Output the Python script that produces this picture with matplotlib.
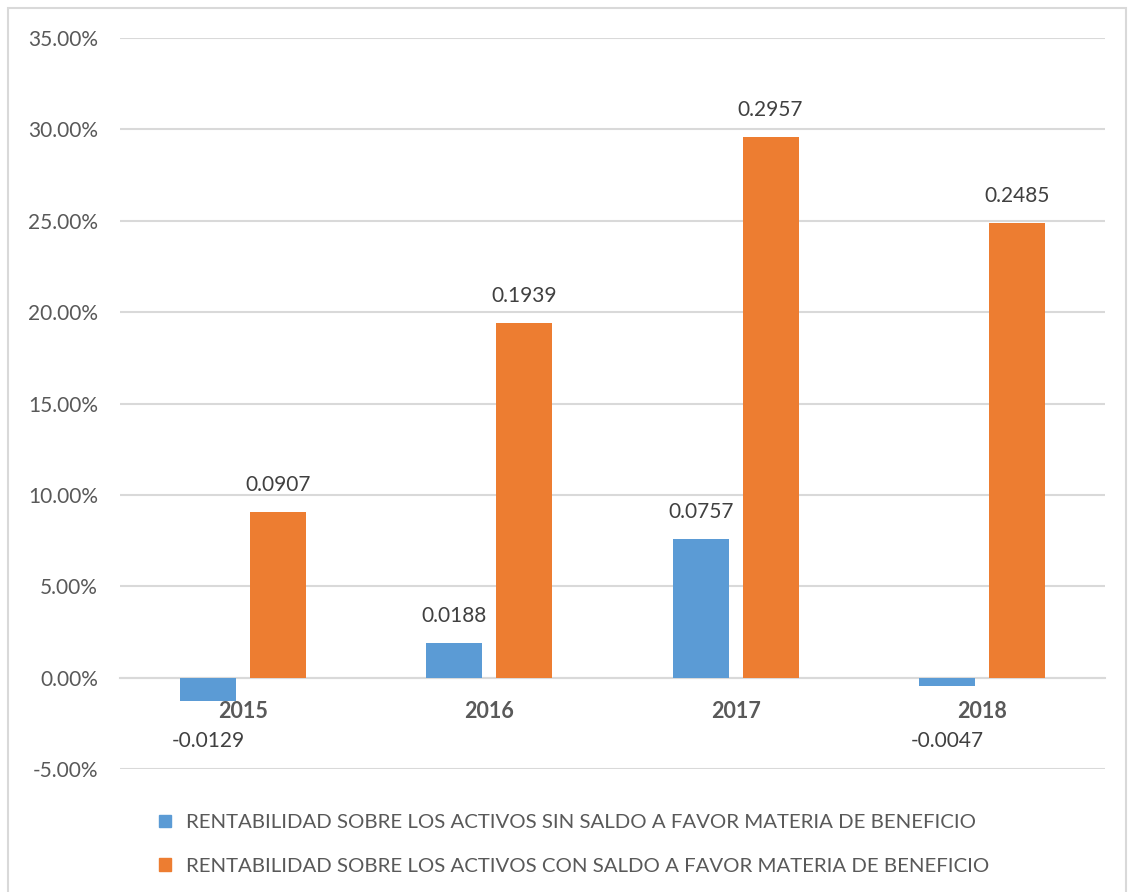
import matplotlib
matplotlib.use("Agg")
import matplotlib.pyplot as plt
from matplotlib.patches import Patch, Rectangle
from matplotlib.ticker import FuncFormatter
import numpy as np

plt.rcParams['font.family'] = ['Lato', 'DejaVu Sans']

years = ['2015', '2016', '2017', '2018']
sin_saldo = [-0.0129, 0.0188, 0.0757, -0.0047]
con_saldo = [0.0907, 0.1939, 0.2957, 0.2485]
series_names = ['RENTABILIDAD SOBRE LOS ACTIVOS SIN SALDO A FAVOR MATERIA DE BENEFICIO',
                'RENTABILIDAD SOBRE LOS ACTIVOS CON SALDO A FAVOR MATERIA DE BENEFICIO']
yticks = [-0.05, 0.0, 0.05, 0.10, 0.15, 0.20, 0.25, 0.30, 0.35]

BLUE = '#5B9BD5'
ORANGE = '#ED7D31'
GRAY_TXT = '#595959'
GRID = '#D9D9D9'

W, H = 1128, 892
fig = plt.figure(figsize=(W/100, H/100), dpi=100)
ax = fig.add_axes([120/W, 1-769/H, (1105-120)/W, (769-38)/H])

x = np.arange(len(years))
bw = 0.228
off = 0.142
b1 = ax.bar(x - off, sin_saldo, bw, color=BLUE, zorder=3)
b2 = ax.bar(x + off, con_saldo, bw, color=ORANGE, zorder=3)

ax.set_xlim(-0.5, len(years) - 0.5)
ax.set_ylim(yticks[0], yticks[-1])
ax.set_yticks(yticks)
ax.yaxis.set_major_formatter(FuncFormatter(lambda v, p: f"{v*100:.2f}%"))
ax.grid(axis='y', color=GRID, linewidth=1.5, zorder=0)
ax.set_axisbelow(True)
for s in ['top', 'right', 'left']:
    ax.spines[s].set_visible(False)
ax.spines['bottom'].set_position(('data', 0))
ax.spines['bottom'].set_color(GRID)
ax.spines['bottom'].set_linewidth(1.5)
ax.spines['bottom'].set_zorder(2)

ax.set_xticks(x)
ax.set_xticklabels(years, fontweight='bold', color=GRAY_TXT, fontsize=15.5)
ax.tick_params(axis='x', length=0, pad=16.5)
ax.tick_params(axis='y', length=0, pad=16, labelcolor=GRAY_TXT, labelsize=15)

def label(xpos, v):
    if v >= 0:
        ax.annotate(f"{v:.4f}", (xpos, v), xytext=(0, 19.5), textcoords='offset points',
                    ha='center', va='center', fontsize=15, color='#404040')
    else:
        ax.annotate(f"{v:.4f}", (xpos, 0), xytext=(0, -45.3), textcoords='offset points',
                    ha='center', va='center', fontsize=15, color='#404040')

for xi, v in zip(x - off, sin_saldo):
    label(xi, v)
for xi, v in zip(x + off, con_saldo):
    label(xi, v)

handles = [Patch(color=BLUE), Patch(color=ORANGE)]
leg = fig.legend(handles, series_names, loc='upper left', bbox_to_anchor=(151/W, 1-806/H),
                 frameon=False, fontsize=14.65, handlelength=0.6, handleheight=0.6,
                 handletextpad=0.7, labelspacing=1.3, labelcolor=GRAY_TXT, borderaxespad=0)

fig.patches.append(Rectangle((8/W, -0.01), (1126-8)/W, 1.01-8/H, transform=fig.transFigure,
                             fill=False, edgecolor=GRID, linewidth=1.5))

fig.savefig('out.png', dpi=100)
